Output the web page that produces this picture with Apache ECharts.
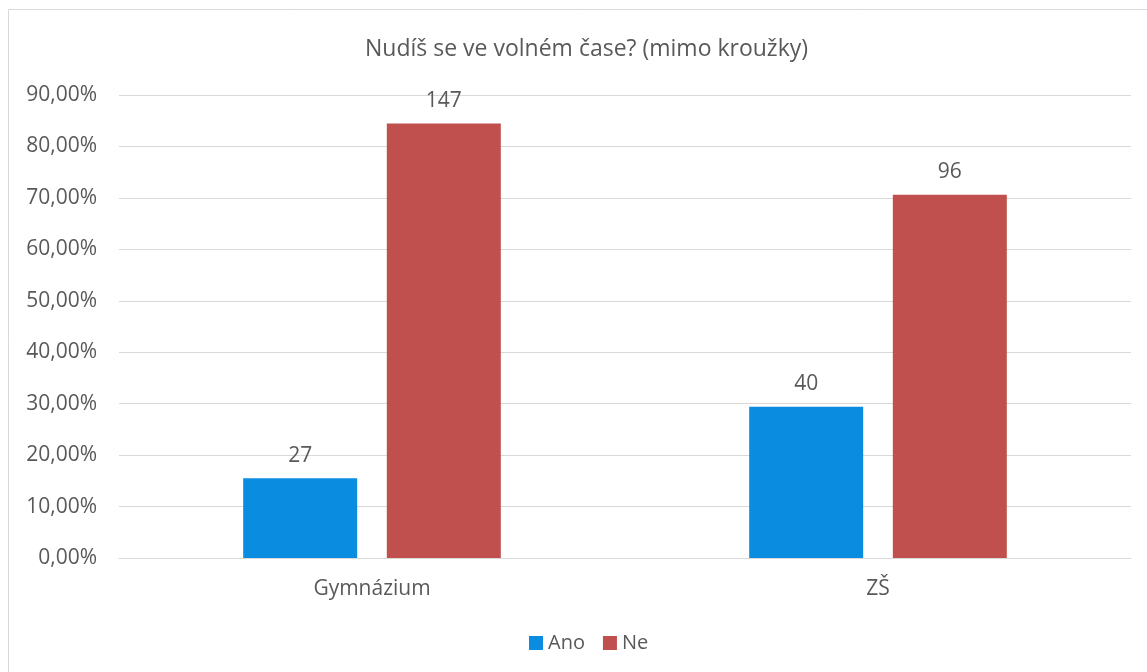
<!DOCTYPE html>
<html>
<head>
<meta charset="utf-8">
<script src="https://cdn.jsdelivr.net/npm/echarts@6/dist/echarts.min.js"></script>
<style>
  html, body { margin: 0; padding: 0; background: #fff; }
  #chart { width: 1147px; height: 672px; }
</style>
</head>
<body>
<div id="chart"></div>
<script>
// data
const categories = ['Gymnázium', 'ZŠ'];
const seriesNames = ['Ano', 'Ne'];
const anoPercent = [15.52, 29.41];
const nePercent = [84.48, 70.59];
const anoCount = [27, 40];
const neCount = [147, 96];
const yTicks = [0, 10, 20, 30, 40, 50, 60, 70, 80, 90];

const font = '"Open Sans", "DejaVu Sans", sans-serif';
const textColor = '#595959';

let chart = echarts.init(document.getElementById('chart'));

function fmtPct(v) {
    return v.toFixed(2).replace('.', ',') + '%';
}

let option = {
    animation: false,
    textStyle: { fontFamily: font },
    title: {
        text: 'Nudíš se ve volném čase? (mimo kroužky)',
        left: 360,
        top: 33,
        textStyle: { fontFamily: font, fontSize: 23, fontWeight: 'normal', color: textColor }
    },
    legend: {
        data: seriesNames,
        bottom: 14,
        left: 524,
        itemWidth: 14,
        itemHeight: 14,
        itemGap: 18,
        icon: 'rect',
        textStyle: { fontFamily: font, fontSize: 20, color: textColor }
    },
    grid: {
        left: 119,
        right: 16,
        top: 95,
        bottom: 114
    },
    xAxis: {
        type: 'category',
        data: categories,
        axisLine: { lineStyle: { color: '#d9d9d9', width: 1 } },
        axisTick: { show: false },
        axisLabel: { fontFamily: font, fontSize: 21, color: textColor, margin: 21 }
    },
    yAxis: {
        type: 'value',
        min: yTicks[0],
        max: yTicks[yTicks.length - 1],
        interval: 10,
        axisLine: { show: false },
        axisTick: { show: false },
        splitLine: { lineStyle: { color: '#d9d9d9', width: 1 } },
        axisLabel: {
            fontFamily: font, fontSize: 21, color: textColor, margin: 22,
            formatter: fmtPct
        }
    },
    graphic: [{
        type: 'rect',
        shape: { x: 8.5, y: 9.5, width: 1160, height: 700 },
        style: { fill: 'none', stroke: '#d9d9d9', lineWidth: 1 },
        silent: true
    }],
    series: [
        {
            name: 'Ano',
            type: 'bar',
            data: anoPercent,
            barWidth: 114,
            barGap: '26%',
            itemStyle: { color: '#0a8de1' },
            label: {
                show: true, position: 'top', distance: 12,
                fontFamily: font, fontSize: 21, color: textColor,
                formatter: p => anoCount[p.dataIndex]
            }
        },
        {
            name: 'Ne',
            type: 'bar',
            data: nePercent,
            barWidth: 114,
            itemStyle: { color: '#c0504d' },
            label: {
                show: true, position: 'top', distance: 12,
                fontFamily: font, fontSize: 21, color: textColor,
                formatter: p => neCount[p.dataIndex]
            }
        }
    ]
};

chart.setOption(option);
</script>
</body>
</html>
